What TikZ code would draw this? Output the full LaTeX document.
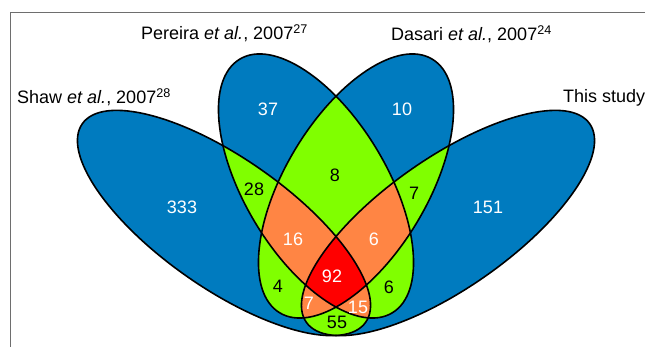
\documentclass[tikz,border=0pt]{standalone}
\usepackage{fontspec}
\setmainfont{Liberation Sans}
\definecolor{vblue}{RGB}{0,123,191}
\definecolor{vgreen}{RGB}{128,255,0}
\definecolor{vorange}{RGB}{255,133,68}
\definecolor{vred}{RGB}{255,0,0}
\definecolor{framegray}{RGB}{110,110,110}
\tikzset{
  setlabel/.style={font=\fontsize{18}{22}\selectfont, anchor=base west, inner sep=0pt},
  wnum/.style={font=\fontsize{18}{22}\selectfont, text=white, inner sep=0pt},
  bnum/.style={font=\fontsize{18}{22}\selectfont, text=black, inner sep=0pt},
  outline/.style={draw=black, line width=1.6pt}
}
\begin{document}
\begin{tikzpicture}[x=1pt,y=1pt]
  \useasboundingbox (0,0) rectangle (645,347);
  % frame, only top and left edge inside the picture
  \draw[framegray, line width=0.8pt] (10,0) -- (10,335) -- (645,335);

  % the four sets, outer two long and flat, inner two more upright
  \def\shaw{(224,124) circle [x radius=173, y radius=65, rotate=-35]}
  \def\pereira{(316,161) circle [x radius=148, y radius=71, rotate=-59]}
  \def\dasari{(356,161) circle [x radius=148, y radius=71, rotate=59]}
  \def\study{(448,124) circle [x radius=173, y radius=65, rotate=35]}

  % one set
  \fill[vblue] \shaw;
  \fill[vblue] \pereira;
  \fill[vblue] \dasari;
  \fill[vblue] \study;
  % two sets
  \begin{scope} \clip \shaw; \fill[vgreen] \pereira; \fill[vgreen] \dasari; \fill[vgreen] \study; \end{scope}
  \begin{scope} \clip \pereira; \fill[vgreen] \dasari; \fill[vgreen] \study; \end{scope}
  \begin{scope} \clip \dasari; \fill[vgreen] \study; \end{scope}
  % three sets
  \begin{scope} \clip \shaw; \clip \pereira; \fill[vorange] \dasari; \fill[vorange] \study; \end{scope}
  \begin{scope} \clip \shaw; \clip \dasari; \fill[vorange] \study; \end{scope}
  \begin{scope} \clip \pereira; \clip \dasari; \fill[vorange] \study; \end{scope}
  % all four
  \begin{scope} \clip \shaw; \clip \pereira; \clip \dasari; \fill[vred] \study; \end{scope}

  \draw[outline] \shaw;
  \draw[outline] \pereira;
  \draw[outline] \dasari;
  \draw[outline] \study;

  % set names
  \node[setlabel] (lshaw) at (17,243) {Shaw \textit{et al.}, 2007\textsuperscript{28}};
  \node[setlabel] (lpereira) at (141,307) {Pereira \textit{et al.}, 2007\textsuperscript{27}};
  \node[setlabel] (ldasari) at (391,306) {Dasari \textit{et al.}, 2007\textsuperscript{24}};
  \node[setlabel] (lstudy) at (563,244) {This study};

  % counts
  \node[wnum] (n37) at (268,238) {37};
  \node[wnum] (n10) at (402,238) {10};
  \node[wnum] (n333) at (182,140) {333};
  \node[wnum] (n151) at (488,140) {151};
  \node[bnum] (n8) at (335,172) {8};
  \node[bnum] (n28) at (254,158) {28};
  \node[bnum] (n7a) at (414,154) {7};
  \node[wnum] (n16) at (293,108) {16};
  \node[wnum] (n6a) at (374,108) {6};
  \node[wnum] (n92) at (332,71) {92};
  \node[bnum] (n4) at (278,61) {4};
  \node[bnum] (n6b) at (389,60) {6};
  \node[wnum] (n7b) at (309,44) {7};
  \node[wnum] (n15) at (358,40) {15};
  \node[bnum] (n55) at (337,25) {55};
\end{tikzpicture}
\end{document}
